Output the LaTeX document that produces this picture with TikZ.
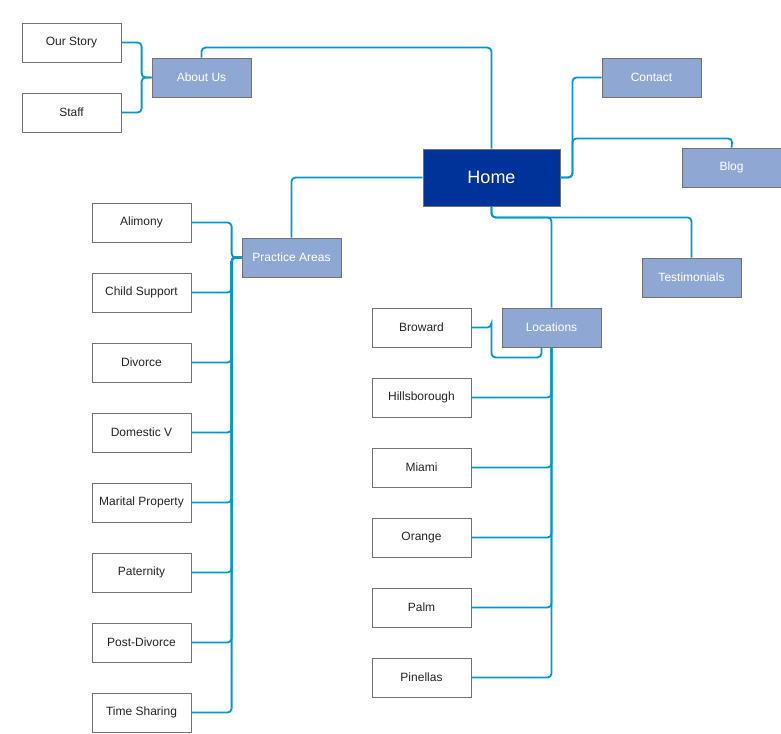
\documentclass[tikz,border=0pt]{standalone}
\usepackage{fontspec}
\setmainfont{Liberation Sans}
\begin{document}
\begin{tikzpicture}[x=1pt,y=-1pt,
  box/.style={draw=black!55,line width=0.8pt,minimum width=99pt,minimum height=39pt,inner sep=0pt,font=\fontsize{12}{14}\selectfont,text=black!85},
  leaf/.style={box,fill=white},
  sec/.style={box,fill=secblue,text=white},
  link/.style={draw=linkblue,line width=1.8pt,rounded corners=4pt}]
\definecolor{secblue}{HTML}{8FA7D3}
\definecolor{linkblue}{HTML}{0099CC}
\definecolor{homeblue}{HTML}{003399}
\useasboundingbox (0,0) rectangle (781,733);
\node[box,fill=homeblue,text=white,minimum width=137pt,minimum height=57pt,font=\fontsize{18}{20}\selectfont] (home) at (491.5,177.5) {Home};
\node[sec] (about) at (201.5,77.5) {About Us};
\node[leaf] (story) at (71.5,42.5) {Our Story};
\node[leaf] (staff) at (71.5,112.5) {Staff};
\node[sec] (contact) at (651.5,77.5) {Contact};
\node[sec] (blog) at (731.5,167.5) {Blog};
\node[sec] (test) at (691.5,277.5) {Testimonials};
\node[sec] (loc) at (551.5,327.5) {Locations};
\node[sec] (prac) at (291.5,257.5) {Practice Areas};
\foreach \n/\t [count=\i from 0] in {alim/Alimony,child/Child Support,div/Divorce,dom/Domestic V,mar/Marital Property,pat/Paternity,post/Post-Divorce,time/Time Sharing}
  \node[leaf] (\n) at (141.5,222.5+70*\i) {\t};
\foreach \n/\t [count=\i from 0] in {brow/Broward,hill/Hillsborough,mia/Miami,ora/Orange,palm/Palm,pin/Pinellas}
  \node[leaf] (\n) at (421.5,327.5+70*\i) {\t};
\begin{scope}[on background layer/.try]
\end{scope}
% connectors
\draw[link] (home.north) -- ++(0,-101) -| (about.north);
\draw[link] (about.west) -- ++(-10,0) |- (story.east);
\draw[link] (about.west) -- ++(-10,0) |- (staff.east);
\draw[link] (home.east) -- ++(12,0) |- (contact.west);
\draw[link] (home.east) -- ++(12,0) |- ++(160,-39) -- (blog.north);
\draw[link] (home.west) -| (prac.north);
\foreach \n in {alim,child,div,dom,mar,pat,post,time}
  \draw[link] (prac.west) -- ++(-10,0) |- (\n.east);
\draw[link] (home.south) -- ++(0,11) -| (test.north);
\draw[link] (home.south) -- ++(0,11) -| (loc.north);
\draw[link] ([xshift=-10pt]loc.south) -- ++(0,10) -| ([xshift=20pt]brow.east) |- (brow.east);
\foreach \n in {hill,mia,ora,palm,pin}
  \draw[link] (loc.south) |- (\n.east);
\end{tikzpicture}
\end{document}
